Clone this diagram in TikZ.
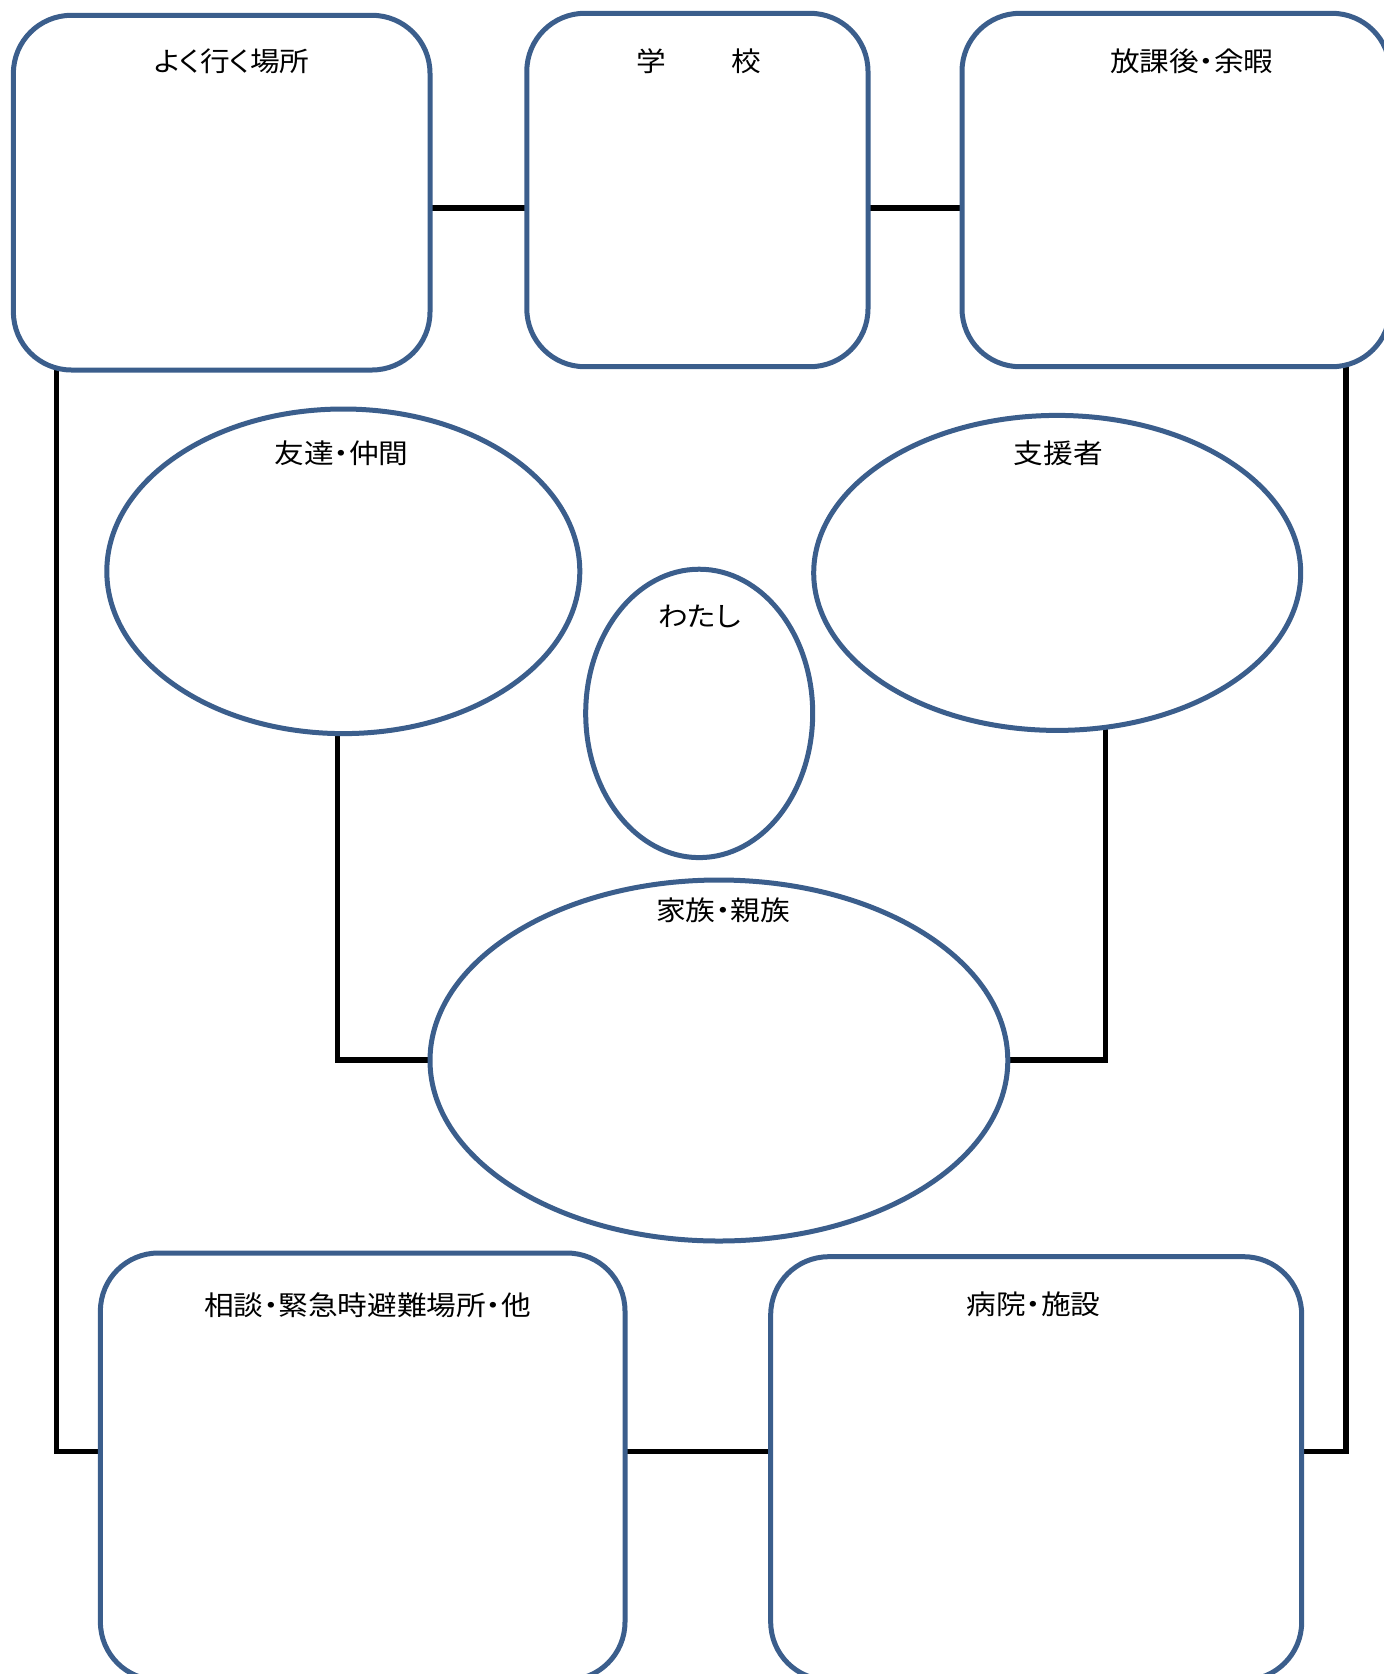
\documentclass[tikz,border=0pt]{standalone}
\usepackage{fontspec}
\newfontfamily\jp[RawFeature=+palt,FakeStretch=1.1]{Noto Sans CJK JP}
\usetikzlibrary{shapes.geometric}
\definecolor{outl}{RGB}{59,94,140}
\pgfdeclarelayer{background}
\pgfsetlayers{background,main}
\begin{document}
\begin{tikzpicture}[x=1pt,y=-1pt,
  rbox/.style={draw=outl,line width=5pt,fill=white,rectangle,rounded corners=58pt,inner sep=0pt,outer sep=0pt},
  ebox/.style={draw=outl,line width=5pt,fill=white,ellipse,inner sep=0pt,outer sep=0pt},
  conn/.style={draw=black,line width=5.3pt},
  lbl/.style={font=\jp\fontsize{27}{30}\selectfont,inner sep=0pt,text=black}]
\useasboundingbox (0,0) rectangle (1384,1674);
\clip (0,0) rectangle (1384,1674);
% boxes
\node[rbox,minimum width=416.6pt,minimum height=354.7pt] (b1) at (221.7,192.65) {};
\node[rbox,minimum width=341.2pt,minimum height=353.4pt] (b2) at (697.4,190) {};
\node[rbox,minimum width=428pt,minimum height=353.4pt] (b3) at (1176,190) {};
\node[rbox,minimum width=524.6pt,minimum height=427pt] (b7) at (362.7,1466.5) {};
\node[rbox,minimum width=531pt,minimum height=423.3pt] (b8) at (1036.2,1468.35) {};
% ellipses
\node[ebox,minimum width=473pt,minimum height=324.6pt] (tomo) at (343.3,571.3) {};
\node[ebox,minimum width=487pt,minimum height=315pt] (shien) at (1057.2,572.9) {};
\node[ebox,minimum width=227pt,minimum height=288.4pt] (wata) at (699.2,713.4) {};
\node[ebox,minimum width=577.8pt,minimum height=361pt] (fam) at (718.9,1060.5) {};
% labels
\node[lbl] (t1) at (231.7,60.9) {よく行く場所};
\node[lbl] (t2) at (699,60.9) {学\hspace{65pt}校};
\node[lbl] (t3) at (1191.8,60.9) {放課後・余暇};
\node[lbl] (t4) at (341.7,452.8) {友達・仲間};
\node[lbl] (t5) at (1058.3,452.8) {支援者};
\node[lbl] (t6) at (699.5,616.2) {わたし};
\node[lbl] (t7) at (723,909.8) {家族・親族};
\node[lbl] (t8) at (367.4,1305) {相談・緊急時避難場所・他};
\node[lbl] (t9) at (1033.7,1304) {病院・施設};
% guide coordinates
\coordinate (rowtop) at (0,208);
\coordinate (rowbot) at (0,1451.7);
\coordinate (rowfam) at (0,1060);
\coordinate (colL) at (56.7,0);
\coordinate (colR) at (1346,0);
\coordinate (colT) at (337.2,0);
\coordinate (colS) at (1105.3,0);
\begin{pgfonlayer}{background}
\draw[conn] (b1.east |- rowtop) -- (b2.west |- rowtop);
\draw[conn] (b2.east |- rowtop) -- (b3.west |- rowtop);
\draw[conn] (b7.east |- rowbot) -- (b8.west |- rowbot);
\draw[conn] (colL |- b1.center) -- (colL |- rowbot) -- (b7.center |- rowbot);
\draw[conn] (colR |- b3.center) -- (colR |- rowbot) -- (b8.center |- rowbot);
\draw[conn] (colT |- tomo.center) -- (colT |- rowfam) -- (fam.center |- rowfam);
\draw[conn] (colS |- shien.center) -- (colS |- rowfam) -- (fam.center |- rowfam);
\end{pgfonlayer}
\end{tikzpicture}
\end{document}
